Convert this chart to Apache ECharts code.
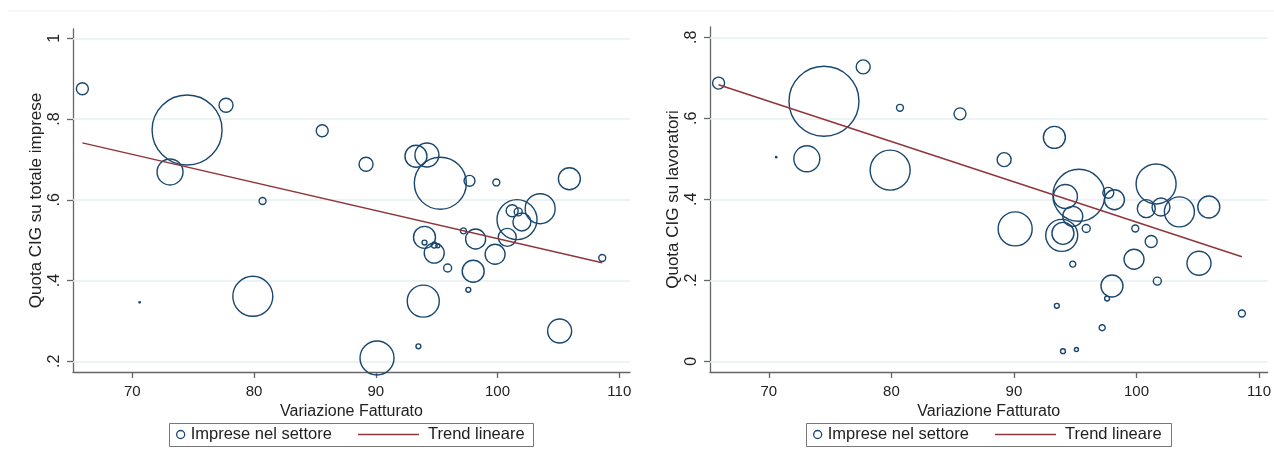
<!DOCTYPE html>
<html>
<head>
<meta charset="utf-8">
<script src="https://cdn.jsdelivr.net/npm/echarts@6/dist/echarts.min.js"></script>
<style>
  html, body { margin: 0; padding: 0; background: #ffffff; }
  #chart { width: 1274px; height: 468px; }
</style>
</head>
<body>
<div id="chart"></div>
<script>
// Variazione del fatturato per settore (asse x, comune ai due grafici)
const variazione = [65.9, 70.6, 73.1, 74.5, 77.7, 79.9, 80.7, 85.6, 89.2, 90.1, 93.3, 93.5, 93.9, 94.0, 94.0, 94.2, 94.8, 94.8, 95.1, 95.3, 95.9, 97.2, 97.6, 97.7, 98.0, 98.2, 99.8, 99.9, 100.8, 101.2, 101.6, 101.7, 102.0, 103.5, 105.1, 105.9, 108.6];
// Quota CIG sul totale delle imprese
const quotaImprese = [0.875, 0.346, 0.669, 0.773, 0.834, 0.361, 0.597, 0.771, 0.688, 0.208, 0.708, 0.237, 0.349, 0.507, 0.494, 0.711, 0.488, 0.468, 0.486, 0.641, 0.431, 0.523, 0.377, 0.647, 0.423, 0.503, 0.465, 0.643, 0.507, 0.573, 0.551, 0.570, 0.545, 0.578, 0.275, 0.652, 0.456];
// Quota CIG sui lavoratori
const quotaLavoratori = [0.687, 0.504, 0.500, 0.642, 0.727, 0.472, 0.626, 0.611, 0.498, 0.327, 0.553, 0.137, 0.311, 0.316, 0.025, 0.407, 0.240, 0.358, 0.029, 0.410, 0.328, 0.083, 0.155, 0.416, 0.186, 0.399, 0.252, 0.328, 0.377, 0.296, 0.438, 0.198, 0.381, 0.369, 0.242, 0.381, 0.118];
// Peso di ciascun settore (area della bolla)
const pesi = [36, 0.5, 169, 1225, 49, 400, 12, 36, 49, 289, 121, 6, 256, 121, 6, 144, 9, 100, 4, 676, 16, 9, 6, 30, 121, 100, 100, 12, 81, 36, 400, 16, 81, 225, 144, 121, 12];
// Retta di regressione: estremi
const trendX = [65.9, 108.6];
const trendImprese = [0.741, 0.444];
const trendLavoratori = [0.683, 0.258];
// Etichette degli assi
const xTicks = [70, 80, 90, 100, 110];
const yTicksImprese = [0.2, 0.4, 0.6, 0.8, 1];
const yTicksLavoratori = [0, 0.2, 0.4, 0.6, 0.8];

const NAVY = '#1a476f';
const MAROON = '#90353b';
const AXIS = '#666666';
const GRID = '#e6eff1';
const TEXT = '#222222';
const FONT = 'Liberation Sans, Arial, sans-serif';

function fmtY(v) {
  if (v === 0) return '0';
  if (v === 1) return '1';
  return String(v).replace(/^0/, '');
}

function bubbles(ys) {
  return variazione.map((x, i) => [x, ys[i], pesi[i]]);
}
function trend(ys) {
  return trendX.map((x, i) => [x, ys[i]]);
}

function xAxisFor(gridIndex, min, max) {
  return {
    type: 'value', gridIndex, min, max,
    name: 'Variazione Fatturato', nameLocation: 'middle', nameGap: 27,
    nameTextStyle: { fontFamily: FONT, fontSize: 16, color: TEXT },
    axisLine: { show: true, onZero: false, lineStyle: { color: AXIS, width: 1.3 } },
    axisTick: { show: true, length: 6, customValues: xTicks, lineStyle: { color: AXIS, width: 1.3 } },
    axisLabel: { customValues: xTicks, margin: 12, fontFamily: FONT, fontSize: 15, color: TEXT },
    splitLine: { show: false }
  };
}
function yAxisFor(gridIndex, min, max, ticks, title) {
  return {
    type: 'value', gridIndex, min, max,
    name: title, nameLocation: 'middle', nameGap: 28, nameRotate: 90,
    nameTextStyle: { fontFamily: FONT, fontSize: 17, color: TEXT },
    axisLine: { show: true, onZero: false, lineStyle: { color: AXIS, width: 1.3 } },
    axisTick: { show: true, length: 6, customValues: ticks, lineStyle: { color: AXIS, width: 1.3 } },
    axisLabel: { customValues: ticks, rotate: 90, margin: 10, fontFamily: FONT, fontSize: 16, color: TEXT, formatter: fmtY },
    splitLine: { show: false }
  };
}
// Linee orizzontali di riferimento, sotto le bolle
function gridLines(ticks) {
  return {
    silent: true, symbol: 'none', animation: false, z: 1,
    label: { show: false },
    emphasis: { disabled: true },
    lineStyle: { color: GRID, width: 1.5, type: 'solid' },
    data: ticks.map(v => ({ yAxis: v }))
  };
}
function scatterSeries(idx, ys, ticks) {
  return {
    name: 'Imprese nel settore', type: 'scatter', xAxisIndex: idx, yAxisIndex: idx,
    data: bubbles(ys),
    symbol: 'circle',
    symbolSize: v => 2 * Math.sqrt(v[2]),
    itemStyle: { color: 'rgba(0,0,0,0)', borderColor: NAVY, borderWidth: 1.4, opacity: 1 },
    emphasis: { disabled: true },
    markLine: gridLines(ticks),
    z: 3
  };
}
function trendSeries(idx, ys) {
  return {
    name: 'Trend lineare', type: 'line', xAxisIndex: idx, yAxisIndex: idx,
    data: trend(ys), symbol: 'none', showSymbol: false,
    lineStyle: { color: MAROON, width: 1.5 },
    itemStyle: { color: MAROON },
    z: 4
  };
}
function legendPair(boxLeft, top) {
  return [
    {
      left: boxLeft + 7, top: top + 3, orient: 'horizontal',
      data: [{ name: 'Imprese nel settore', icon: 'circle',
               itemStyle: { color: 'rgba(0,0,0,0)', borderColor: NAVY, borderWidth: 1.3 } }],
      itemWidth: 8, itemHeight: 8, padding: 0, selectedMode: false,
      textStyle: { fontFamily: FONT, fontSize: 16.5, color: TEXT, padding: [0, 0, 0, 1] }
    },
    {
      left: boxLeft + 189, top: top + 3, orient: 'horizontal',
      data: [{ name: 'Trend lineare', icon: 'rect', itemStyle: { color: MAROON, borderWidth: 0 } }],
      itemWidth: 61, itemHeight: 1.6, padding: 0, selectedMode: false,
      textStyle: { fontFamily: FONT, fontSize: 16.5, color: TEXT, padding: [0, 0, 0, 4] }
    }
  ];
}

const chart = echarts.init(document.getElementById('chart'), null, { renderer: 'canvas' });
chart.setOption({
  backgroundColor: '#ffffff',
  animation: false,
  grid: [
    { left: 73, top: 29, width: 557, height: 343 },
    { left: 710, top: 27, width: 558, height: 345 }
  ],
  xAxis: [xAxisFor(0, 65.13, 110.88), xAxisFor(1, 65.2, 110.7)],
  yAxis: [
    yAxisFor(0, 0.1735, 1.023, yTicksImprese, 'Quota CIG su totale imprese'),
    yAxisFor(1, -0.0264, 0.8255, yTicksLavoratori, 'Quota CIG su lavoratori')
  ],
  legend: [].concat(legendPair(169, 423), legendPair(806, 423)),
  series: [
    scatterSeries(0, quotaImprese, yTicksImprese),
    trendSeries(0, trendImprese),
    scatterSeries(1, quotaLavoratori, yTicksLavoratori),
    trendSeries(1, trendLavoratori)
  ],
  graphic: [
    { type: 'line', silent: true, shape: { x1: 8, y1: 11, x2: 1274, y2: 11 }, style: { stroke: '#eeeeee', lineWidth: 1 } },
    { type: 'rect', silent: true, shape: { x: 169.5, y: 423.5, width: 364, height: 23 }, style: { fill: 'none', stroke: '#777777', lineWidth: 1 } },
    { type: 'rect', silent: true, shape: { x: 806.5, y: 423.5, width: 365, height: 23 }, style: { fill: 'none', stroke: '#777777', lineWidth: 1 } }
  ]
});
</script>
</body>
</html>
